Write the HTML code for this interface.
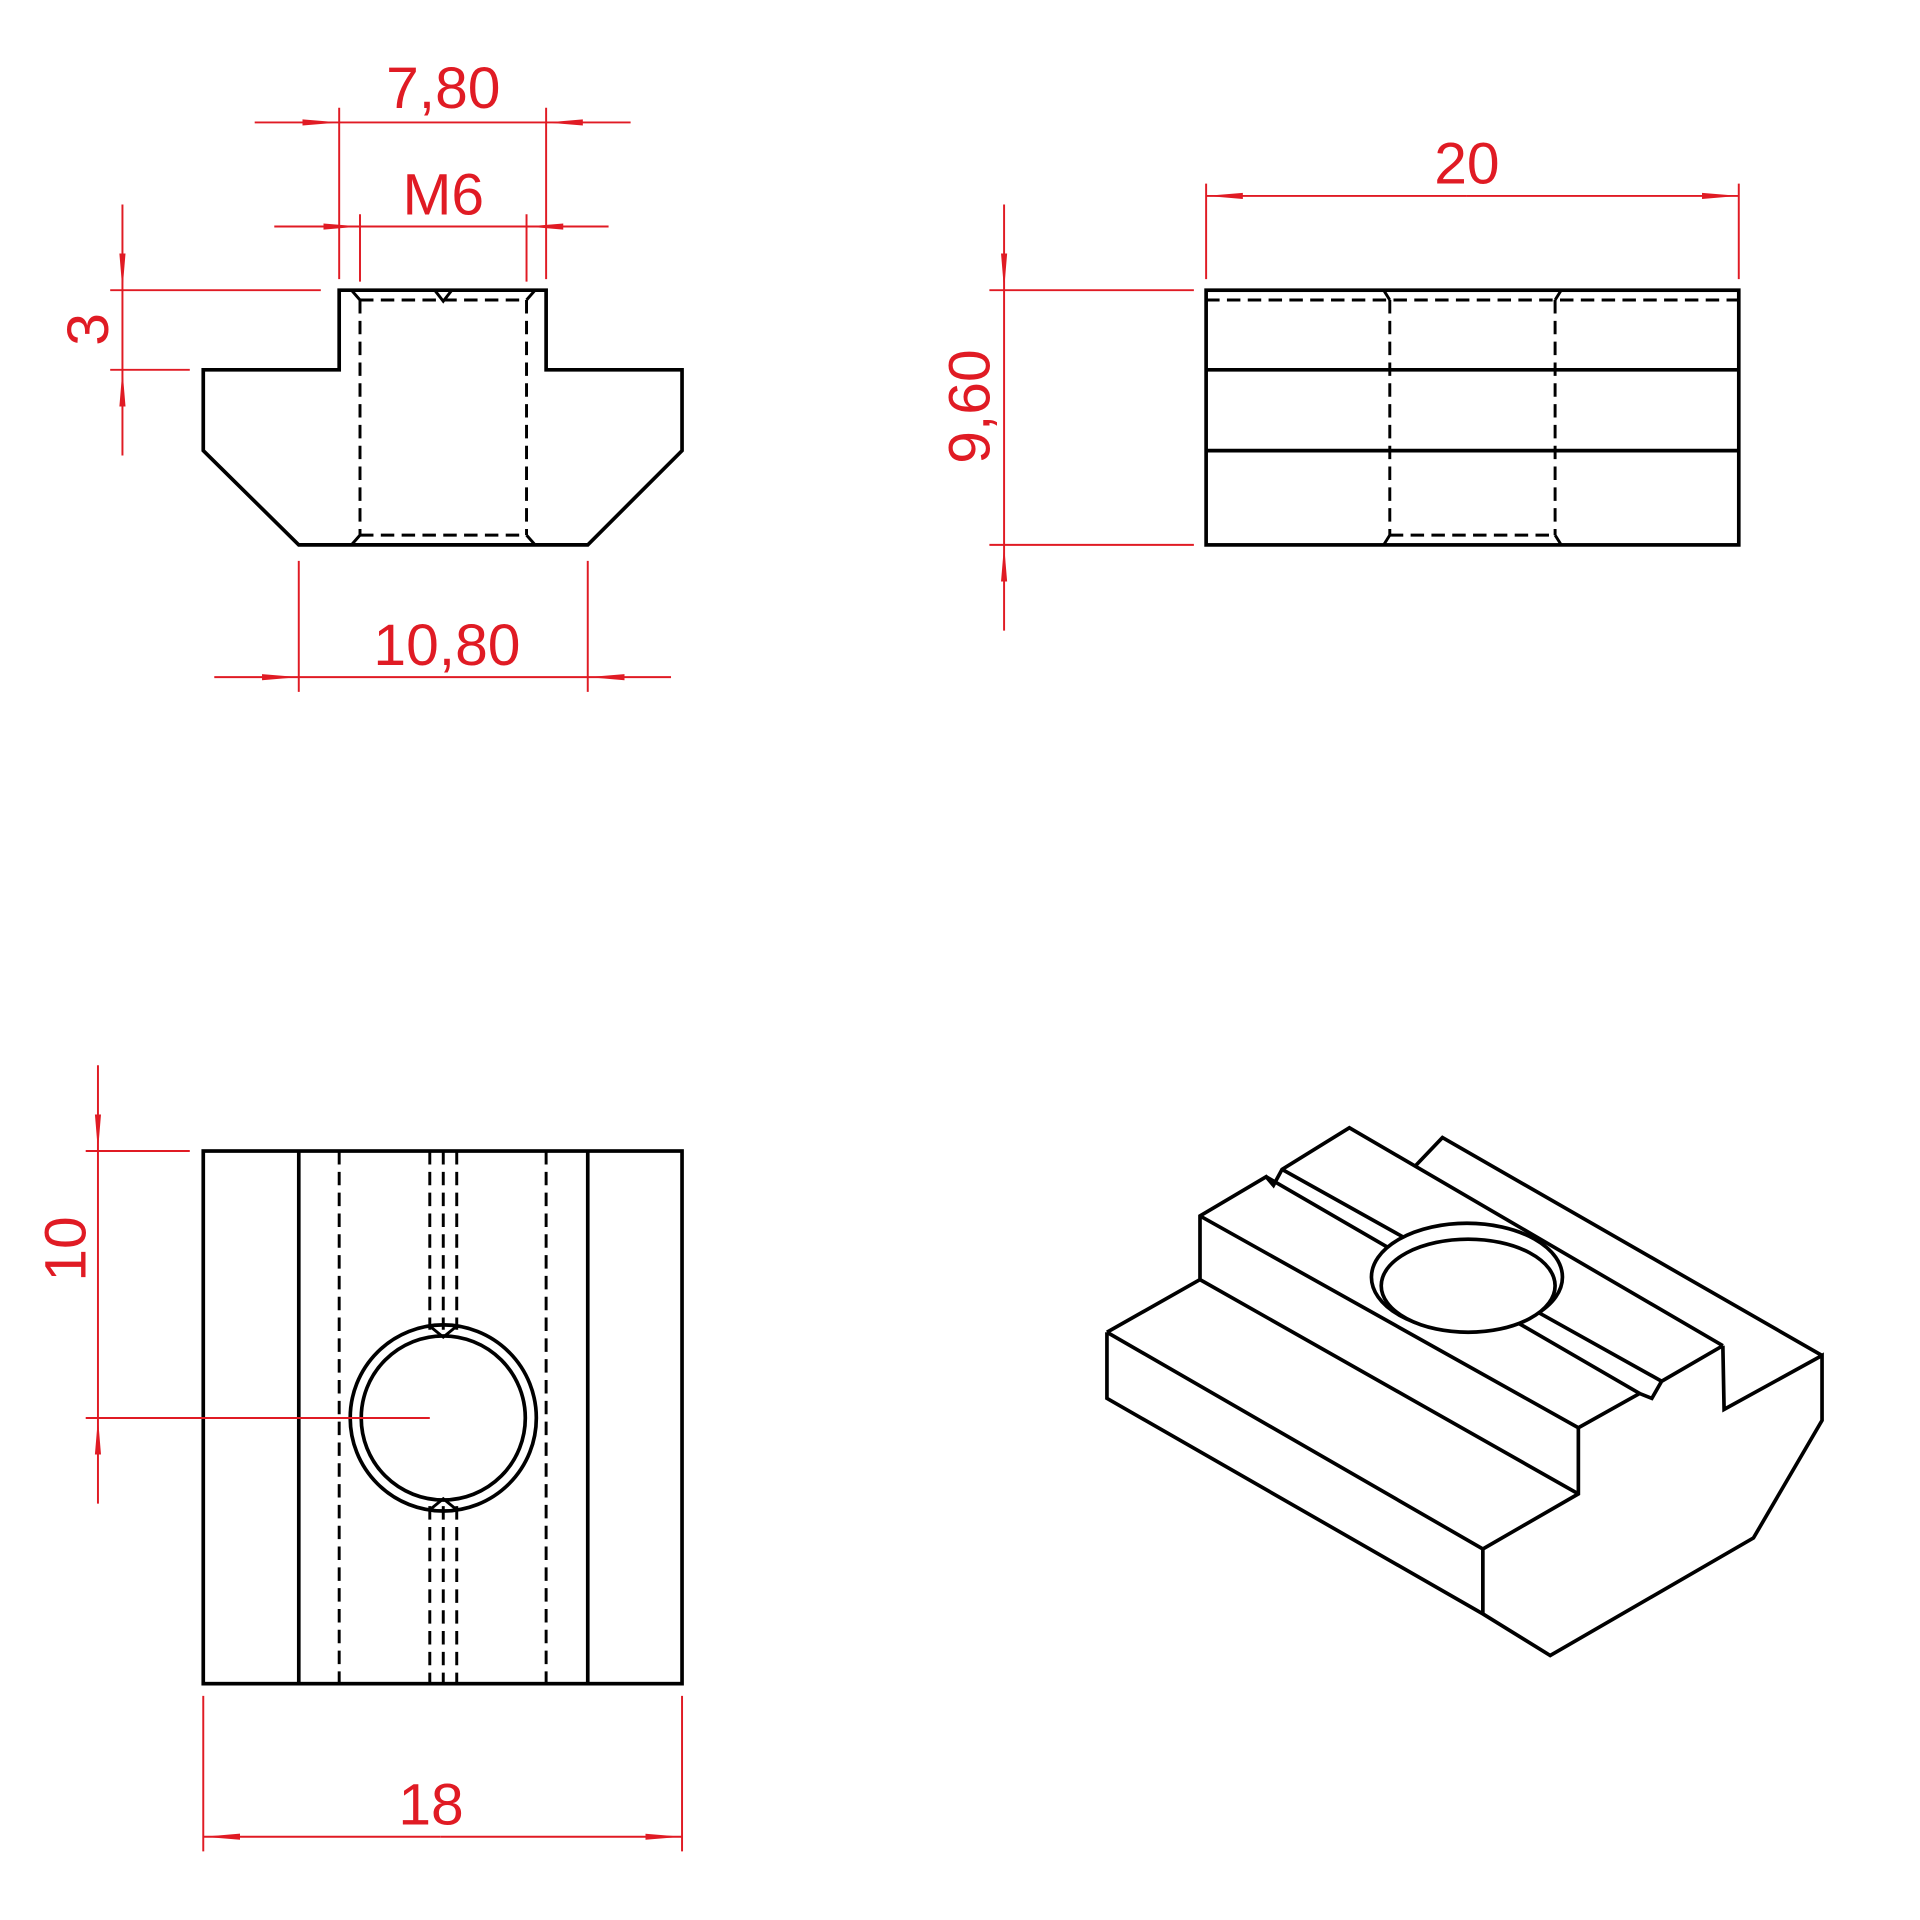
<!DOCTYPE html>
<html><head><meta charset="utf-8"><style>html,body{margin:0;padding:0;background:#fff}svg{display:block}</style></head>
<body>
<svg width="1920" height="1920" viewBox="0 0 1568 1568" xmlns="http://www.w3.org/2000/svg">
<defs>
<marker id="a" viewBox="0 0 30 8" refX="30" refY="4" markerWidth="30" markerHeight="8" markerUnits="userSpaceOnUse" orient="auto">
<path d="M0,1.5 L30,4 L0,6.5 Z" fill="#e01b24"/></marker>
</defs>
<g fill="none" stroke="#000" stroke-width="3" stroke-linejoin="miter">
<path d="M277,237 L446,237 L446,302 L557,302 L557,368 L480,445 L244,445 L166,368 L166,302 L277,302 Z"/>
<path d="M287,237 L294,245 M437,237 L430,245 M287,445 L294,437 M437,445 L430,437 M355,237 L362,246 L369,237" stroke-width="2.4"/>
<g stroke-dasharray="11,6" stroke-width="2.4">
<path d="M294,245 L294,437 M430,245 L430,437 M294,245 L430,245 M294,437 L430,437"/>
</g>
<rect x="985" y="237" width="435" height="208"/>
<path d="M985,302 L1420,302 M985,368 L1420,368"/>
<path d="M1130,237 L1135,245 M1275,237 L1270,245 M1130,445 L1135,437 M1275,445 L1270,437" stroke-width="2.4"/>
<g stroke-dasharray="11,6" stroke-width="2.4">
<path d="M985,245 L1420,245 M1135,437 L1270,437 M1135,245 L1135,437 M1270,245 L1270,437"/>
</g>
<rect x="166" y="940" width="391" height="435"/>
<path d="M244,940 L244,1375 M480,940 L480,1375"/>
<g stroke-dasharray="11,6" stroke-width="2.4">
<path d="M277,940 L277,1375 M446,940 L446,1375 M351,940 L351,1086 M362,940 L362,1086 M373,940 L373,1086 M351,1230 L351,1375 M362,1230 L362,1375 M373,1230 L373,1375"/>
</g>
<circle cx="362" cy="1158" r="76"/>
<circle cx="362" cy="1158" r="67"/>
<path d="M351,1083 L362,1092 L373,1083 M351,1233 L362,1224 L373,1233" stroke-width="2.4"/>
<path d="M904,1088 L904,1142 L1211,1318 L1266,1352 L1432,1256 L1488,1160 L1488,1107 L1408,1151 L1407,1099"/>
<path d="M1211,1265 L1211,1318 M904,1088 L1211,1265 L1289,1220 L1289,1166 M980,1045 L1289,1220 M904,1088 L980,1045 L980,993 L1034,961 L1040,968 L1047,955 L1102,921 L1407,1099 M980,993 L1289,1166 L1339,1138 L1349,1142 L1357,1128 L1407,1099 M1156,952 L1178,929 L1488,1107"/>
<path d="M1034,961 L1339,1138 M1047,955 L1357,1128"/>
<ellipse cx="1198" cy="1043" rx="78" ry="44" fill="#fff"/>
<ellipse cx="1199" cy="1050" rx="71" ry="38" fill="#fff"/>
</g>
<g stroke="#e01b24" stroke-width="1.6" fill="none">
<path d="M277,88 L277,228 M446,88 L446,228"/>
<path d="M208,100 L277,100" marker-end="url(#a)"/><path d="M515,100 L446,100" marker-end="url(#a)"/>
<path d="M277,100 L446,100"/>
<path d="M294,175 L294,230 M430,175 L430,230"/>
<path d="M224,185 L294,185" marker-end="url(#a)"/><path d="M497,185 L430,185" marker-end="url(#a)"/>
<path d="M294,185 L430,185"/>
<path d="M90,237 L262,237 M90,302 L155,302"/>
<path d="M100,167 L100,237" marker-end="url(#a)"/><path d="M100,372 L100,302" marker-end="url(#a)"/>
<path d="M100,237 L100,302"/>
<path d="M244,458 L244,565 M480,458 L480,565"/>
<path d="M175,553 L244,553" marker-end="url(#a)"/><path d="M548,553 L480,553" marker-end="url(#a)"/>
<path d="M244,553 L480,553"/>
<path d="M985,150 L985,228 M1420,150 L1420,228"/>
<path d="M1198,160 L985,160" marker-end="url(#a)"/><path d="M1198,160 L1420,160" marker-end="url(#a)"/>
<path d="M808,237 L975,237 M808,445 L975,445"/>
<path d="M820,167 L820,237" marker-end="url(#a)"/><path d="M820,515 L820,445" marker-end="url(#a)"/>
<path d="M820,237 L820,445"/>
<path d="M70,940 L155,940 M70,1158 L351,1158"/>
<path d="M80,870 L80,940" marker-end="url(#a)"/><path d="M80,1228 L80,1158" marker-end="url(#a)"/>
<path d="M80,940 L80,1158"/>
<path d="M166,1385 L166,1512 M557,1385 L557,1512"/>
<path d="M360,1500 L166,1500" marker-end="url(#a)"/><path d="M360,1500 L557,1500" marker-end="url(#a)"/>
</g>
<g fill="#e01b24" font-family="'Liberation Sans', 'DejaVu Sans', sans-serif" font-size="48" text-anchor="middle">
<text x="362" y="88">7,80</text>
<text x="362" y="175">M6</text>
<text x="365" y="543">10,80</text>
<text x="1198" y="150">20</text>
<text x="352" y="1490">18</text>
<text transform="translate(88,269) rotate(-90)">3</text>
<text transform="translate(808,332) rotate(-90)">9,60</text>
<text transform="translate(70,1020) rotate(-90)">10</text>
</g>
</svg>
</body></html>
